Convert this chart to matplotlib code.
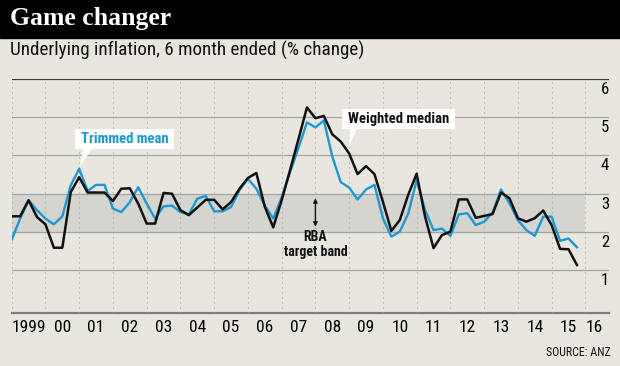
"""Game changer: underlying inflation, trimmed mean vs weighted median"""
import numpy as np
import matplotlib
matplotlib.use("Agg")
import matplotlib.pyplot as plt
from matplotlib import font_manager
from matplotlib.patches import Rectangle, Polygon

# quarterly points, Mar-1999 .. Dec-2015
quarters = np.arange(1999.0, 2015.76, 0.25)

trimmed_mean = [1.80, 2.35, 2.83, 2.57, 2.35, 2.20, 2.41, 3.22, 3.65, 3.07,
                3.23, 3.23, 2.61, 2.52, 2.78, 3.17, 2.74, 2.35, 2.67, 2.69,
                2.52, 2.46, 2.87, 2.94, 2.54, 2.54, 2.65, 3.09, 3.39, 3.13,
                2.69, 2.35, 2.90, 3.56, 4.20, 4.86, 4.73, 4.91, 3.97, 3.30,
                3.16, 2.85, 3.11, 3.23, 2.36, 1.88, 2.01, 2.48, 3.35, 2.57,
                2.05, 2.09, 1.90, 2.46, 2.49, 2.18, 2.27, 2.51, 3.11, 2.75,
                2.31, 2.05, 1.90, 2.40, 2.40, 1.77, 1.83, 1.60]

weighted_median = [2.41, 2.41, 2.83, 2.39, 2.20, 1.59, 1.59, 3.04, 3.43, 3.03,
                   3.03, 3.03, 2.81, 3.13, 3.14, 2.74, 2.22, 2.22, 3.02, 3.00,
                   2.57, 2.44, 2.64, 2.84, 2.84, 2.59, 2.78, 3.13, 3.41, 3.54,
                   2.66, 2.12, 2.83, 3.62, 4.43, 5.25, 4.97, 5.03, 4.55, 4.36,
                   4.05, 3.51, 3.72, 3.51, 2.79, 2.03, 2.31, 2.97, 3.52, 2.40,
                   1.58, 1.92, 2.01, 2.85, 2.85, 2.37, 2.42, 2.47, 3.03, 2.88,
                   2.36, 2.27, 2.36, 2.56, 2.18, 1.56, 1.55, 1.14]

year_ticks = list(range(1999, 2017))
year_labels = ["1999", "00", "01", "02", "03", "04", "05", "06", "07", "08",
               "09", "10", "11", "12", "13", "14", "15", "16"]
y_ticks = [1, 2, 3, 4, 5, 6]
band = (2, 3)

BG = "#e9e6df"
BLUE = "#179ad7"

names = {f.name for f in font_manager.fontManager.ttflist}
narrow = next((n for n in ["Liberation Sans Narrow", "Roboto Condensed",
                           "Open Sans Condensed", "Liberation Sans"] if n in names),
              "DejaVu Sans")
plt.rcParams["font.family"] = [narrow, "DejaVu Sans"]

fig = plt.figure(figsize=(6.2, 3.66), dpi=100, facecolor=BG)

# header bar
fig.patches.append(Rectangle((0, 1 - 38 / 366), 1, 38 / 366, transform=fig.transFigure,
                             color="black", zorder=0))
fig.text(10 / 620, 1 - 19 / 366, "Game changer", color="white", fontsize=18.5,
         fontweight="bold", family="Liberation Serif", va="center", ha="left")
fig.text(10 / 620, 1 - 50 / 366, "Underlying inflation, 6 month ended (% change)",
         fontsize=13.8, va="center", ha="left", color="#111111")
fig.text(611 / 620, 1 - 352 / 366, "SOURCE: ANZ", fontsize=8.6, ha="right",
         va="center", color="#111111")

ax = fig.add_axes([11.7 / 620, 1 - 312.5 / 366, (609 - 11.7) / 620, (312.5 - 78.7) / 366])
ax.set_facecolor(BG)
ax.set_xlim(1999, 2016.7)
ax.set_ylim(-0.1, 6)
for s in ax.spines.values():
    s.set_visible(False)
ax.set_xticks([])
ax.set_yticks([])

ax.fill_between([1999, 2016], band[0], band[1], color="#d5d4ce", lw=0, zorder=0)
for v in y_ticks[:-1]:
    ax.axhline(v, color="#a3a3a3", lw=0.9, zorder=1)
ax.axhline(6, color="#3a3a3a", lw=0.9, zorder=1)
ax.axhline(-0.1, color="#7c7c7c", lw=1.6, zorder=1, clip_on=False)
ax.vlines(year_ticks, -0.1, 6, colors="#a0a0a0", lw=0.8, linestyles=(0, (1, 3.5)), zorder=1)

ax.plot(quarters, trimmed_mean, color=BLUE, lw=1.7, zorder=3)
ax.plot(quarters, weighted_median, color="#111111", lw=1.8, zorder=3)

# year labels
for yr, lab in zip(year_ticks, year_labels):
    if lab == "1999":
        ax.text(yr, -0.5, lab, ha="left", va="center", fontsize=12.5)
    elif lab == "16":
        ax.text(yr + 0.25, -0.5, lab, ha="center", va="center", fontsize=12.5)
    else:
        ax.text(yr + 0.5, -0.5, lab, ha="center", va="center", fontsize=12.5)

for v in y_ticks:
    ax.text(2016.58, v - 0.27, str(v), ha="center", va="center", fontsize=12)


def callout(x0, x1, y0, y1, tip, base, text, color):
    ax.add_patch(Rectangle((x0, y0), x1 - x0, y1 - y0, facecolor="white",
                           edgecolor="none", zorder=4))
    ax.add_patch(Polygon([(base[0], y0 + 0.01), (base[1], y0 + 0.01), tip],
                         closed=True, facecolor="white", edgecolor="none", zorder=4))
    ax.text((x0 + x1) / 2, (y0 + y1) / 2, text, color=color, fontsize=10.5,
            fontweight="bold", ha="center", va="center", zorder=5)


callout(2000.88, 2003.81, 4.165, 4.68, (2001.03, 3.72), (2001.11, 2001.38),
        "Trimmed mean", BLUE)
callout(2008.78, 2012.13, 4.68, 5.21, (2009.0, 4.24), (2009.02, 2009.23),
        "Weighted median", "#111111")

# RBA target band marker
ax.annotate("", xy=(2008.0, 2.88), xytext=(2008.0, 2.14),
            arrowprops=dict(arrowstyle="<|-|>", color="#111111", lw=1.0,
                            mutation_scale=6, shrinkA=0, shrinkB=0), zorder=5)
ax.text(2008.0, 2.05, "RBA\ntarget band", ha="center", va="top", fontsize=10,
        fontweight="bold", linespacing=1.1, color="#111111")

fig.savefig("out.png", dpi=100, facecolor=BG)
